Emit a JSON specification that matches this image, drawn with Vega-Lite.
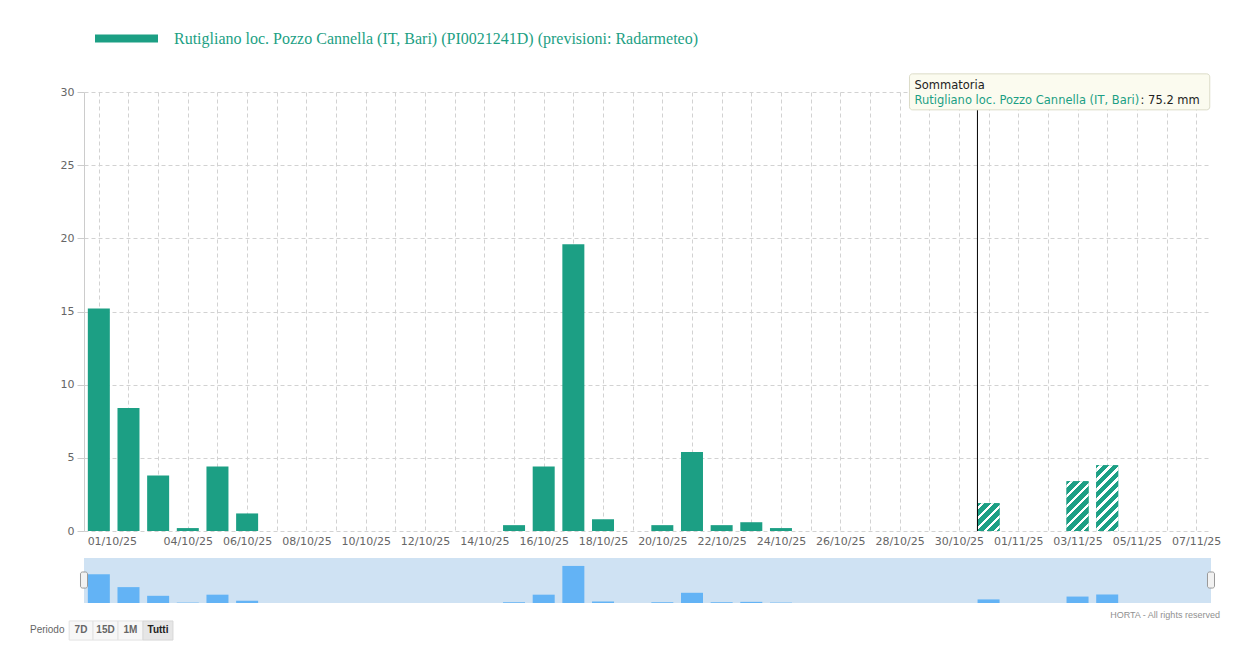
{
  "$schema": "https://vega.github.io/schema/vega-lite/v6.json",
  "padding": {"left": 30, "top": 7, "right": 0, "bottom": 0},
  "spacing": 12,
  "config": {
    "view": {"stroke": null},
    "font": "DejaVu Sans",
    "axis": {"labelFont": "DejaVu Sans", "labelFontSize": 11, "labelColor": "#666666", "title": null}
  },
  "data": {
    "values": [
      {"date": "2025-10-01", "mm": 15.2, "forecast": false},
      {"date": "2025-10-02", "mm": 8.4, "forecast": false},
      {"date": "2025-10-03", "mm": 3.8, "forecast": false},
      {"date": "2025-10-04", "mm": 0.2, "forecast": false},
      {"date": "2025-10-05", "mm": 4.4, "forecast": false},
      {"date": "2025-10-06", "mm": 1.2, "forecast": false},
      {"date": "2025-10-07", "mm": 0, "forecast": false},
      {"date": "2025-10-08", "mm": 0, "forecast": false},
      {"date": "2025-10-09", "mm": 0, "forecast": false},
      {"date": "2025-10-10", "mm": 0, "forecast": false},
      {"date": "2025-10-11", "mm": 0, "forecast": false},
      {"date": "2025-10-12", "mm": 0, "forecast": false},
      {"date": "2025-10-13", "mm": 0, "forecast": false},
      {"date": "2025-10-14", "mm": 0, "forecast": false},
      {"date": "2025-10-15", "mm": 0.4, "forecast": false},
      {"date": "2025-10-16", "mm": 4.4, "forecast": false},
      {"date": "2025-10-17", "mm": 19.6, "forecast": false},
      {"date": "2025-10-18", "mm": 0.8, "forecast": false},
      {"date": "2025-10-19", "mm": 0, "forecast": false},
      {"date": "2025-10-20", "mm": 0.4, "forecast": false},
      {"date": "2025-10-21", "mm": 5.4, "forecast": false},
      {"date": "2025-10-22", "mm": 0.4, "forecast": false},
      {"date": "2025-10-23", "mm": 0.6, "forecast": false},
      {"date": "2025-10-24", "mm": 0.2, "forecast": false},
      {"date": "2025-10-25", "mm": 0, "forecast": false},
      {"date": "2025-10-26", "mm": 0, "forecast": false},
      {"date": "2025-10-27", "mm": 0, "forecast": false},
      {"date": "2025-10-28", "mm": 0, "forecast": false},
      {"date": "2025-10-29", "mm": 0, "forecast": false},
      {"date": "2025-10-30", "mm": 0, "forecast": false},
      {"date": "2025-10-31", "mm": 1.9, "forecast": true},
      {"date": "2025-11-01", "mm": 0, "forecast": true},
      {"date": "2025-11-02", "mm": 0, "forecast": true},
      {"date": "2025-11-03", "mm": 3.4, "forecast": true},
      {"date": "2025-11-04", "mm": 4.5, "forecast": true}
    ],
    "format": {"parse": {"date": "utc:'%Y-%m-%d'"}}
  },
  "vconcat": [
    {
      "width": 1127,
      "height": 439,
      "encoding": {
        "x": {
          "field": "date",
          "type": "temporal",
          "scale": {"type": "utc", "padding": 0, "domain": [{"year": 2025, "month": "Sep", "date": 30, "hours": 12, "utc": true}, {"year": 2025, "month": "Nov", "date": 7, "hours": 12, "utc": true}]},
          "axis": {
            "tickCount": {"interval": "day", "step": 1},
            "format": "%d/%m/%y",
            "labelExpr": "indexof(['01/10/25','04/10/25','06/10/25','08/10/25','10/10/25','12/10/25','14/10/25','16/10/25','18/10/25','20/10/25','22/10/25','24/10/25','26/10/25','28/10/25','30/10/25','01/11/25','03/11/25','05/11/25','07/11/25'], datum.label) >= 0 ? datum.label : ''",
            "labelOffset": {"condition": {"test": "datum.label == '01/10/25'", "value": 13}, "value": 0},
            "labelOverlap": false,
            "labelPadding": 4,
            "ticks": false,
            "domain": false,
            "grid": true,
            "gridDash": [4, 3],
            "gridColor": "#d2d2d2"
          }
        },
        "y": {
          "field": "mm",
          "type": "quantitative",
          "scale": {"domain": [0, 30], "nice": false},
          "axis": {
            "values": [0, 5, 10, 15, 20, 25, 30],
            "grid": true,
            "gridDash": [4, 3],
            "gridColor": "#d2d2d2",
            "domain": true,
            "domainColor": "#cccccc",
            "tickColor": "#cccccc",
            "tickSize": 7,
            "labelPadding": 3
          }
        }
      },
      "layer": [
        {
          "mark": {"type": "bar", "width": 22},
          "encoding": {
            "color": {
              "datum": "Rutigliano loc. Pozzo Cannella (IT, Bari) (PI0021241D) (previsioni: Radarmeteo)",
              "type": "nominal",
              "scale": {"range": ["#1c9f84"]},
              "legend": {
                "orient": "none",
                "legendX": 11,
                "legendY": -85,
                "title": null,
                "padding": 0,
                "symbolType": "M-1,-0.127H1V0.127H-1Z",
                "symbolSize": 3969,
                "symbolStrokeWidth": 0,
                "labelFont": "Liberation Serif",
                "labelFontSize": 16,
                "labelColor": "#1c9f84",
                "labelOffset": 16,
                "labelLimit": 900
              }
            }
          }
        },
        {
          "transform": [{"filter": "utcmonth(datum.date) == 9 && utcdate(datum.date) == 31"}],
          "mark": {"type": "bar", "width": 22, "fill": {"gradient": "linear", "x1": 0, "y1": 0, "x2": 1.750, "y2": 2.212, "stops": [
            {"offset": 0, "color": "#1c9f84"}, {"offset": 0.0325, "color": "#1c9f84"}, {"offset": 0.0325, "color": "#ffffff"}, {"offset": 0.0675, "color": "#ffffff"}, {"offset": 0.0675, "color": "#1c9f84"},
            {"offset": 0.1325, "color": "#1c9f84"}, {"offset": 0.1325, "color": "#ffffff"}, {"offset": 0.1675, "color": "#ffffff"}, {"offset": 0.1675, "color": "#1c9f84"},
            {"offset": 0.2325, "color": "#1c9f84"}, {"offset": 0.2325, "color": "#ffffff"}, {"offset": 0.2675, "color": "#ffffff"}, {"offset": 0.2675, "color": "#1c9f84"},
            {"offset": 0.3325, "color": "#1c9f84"}, {"offset": 0.3325, "color": "#ffffff"}, {"offset": 0.3675, "color": "#ffffff"}, {"offset": 0.3675, "color": "#1c9f84"},
            {"offset": 0.4325, "color": "#1c9f84"}, {"offset": 0.4325, "color": "#ffffff"}, {"offset": 0.4675, "color": "#ffffff"}, {"offset": 0.4675, "color": "#1c9f84"},
            {"offset": 0.5325, "color": "#1c9f84"}, {"offset": 0.5325, "color": "#ffffff"}, {"offset": 0.5675, "color": "#ffffff"}, {"offset": 0.5675, "color": "#1c9f84"},
            {"offset": 0.6325, "color": "#1c9f84"}, {"offset": 0.6325, "color": "#ffffff"}, {"offset": 0.6675, "color": "#ffffff"}, {"offset": 0.6675, "color": "#1c9f84"},
            {"offset": 0.7325, "color": "#1c9f84"}, {"offset": 0.7325, "color": "#ffffff"}, {"offset": 0.7675, "color": "#ffffff"}, {"offset": 0.7675, "color": "#1c9f84"},
            {"offset": 0.8325, "color": "#1c9f84"}, {"offset": 0.8325, "color": "#ffffff"}, {"offset": 0.8675, "color": "#ffffff"}, {"offset": 0.8675, "color": "#1c9f84"},
            {"offset": 0.9325, "color": "#1c9f84"}, {"offset": 0.9325, "color": "#ffffff"}, {"offset": 0.9675, "color": "#ffffff"}, {"offset": 0.9675, "color": "#1c9f84"},
            {"offset": 1, "color": "#1c9f84"}]}}
        },
        {
          "transform": [{"filter": "utcmonth(datum.date) == 10 && utcdate(datum.date) == 3"}],
          "mark": {"type": "bar", "width": 22, "fill": {"gradient": "linear", "x1": 0, "y1": 0, "x2": 0.7435, "y2": 1.681, "stops": [
            {"offset": 0, "color": "#1c9f84"}, {"offset": 0.0325, "color": "#1c9f84"}, {"offset": 0.0325, "color": "#ffffff"}, {"offset": 0.0675, "color": "#ffffff"}, {"offset": 0.0675, "color": "#1c9f84"},
            {"offset": 0.1325, "color": "#1c9f84"}, {"offset": 0.1325, "color": "#ffffff"}, {"offset": 0.1675, "color": "#ffffff"}, {"offset": 0.1675, "color": "#1c9f84"},
            {"offset": 0.2325, "color": "#1c9f84"}, {"offset": 0.2325, "color": "#ffffff"}, {"offset": 0.2675, "color": "#ffffff"}, {"offset": 0.2675, "color": "#1c9f84"},
            {"offset": 0.3325, "color": "#1c9f84"}, {"offset": 0.3325, "color": "#ffffff"}, {"offset": 0.3675, "color": "#ffffff"}, {"offset": 0.3675, "color": "#1c9f84"},
            {"offset": 0.4325, "color": "#1c9f84"}, {"offset": 0.4325, "color": "#ffffff"}, {"offset": 0.4675, "color": "#ffffff"}, {"offset": 0.4675, "color": "#1c9f84"},
            {"offset": 0.5325, "color": "#1c9f84"}, {"offset": 0.5325, "color": "#ffffff"}, {"offset": 0.5675, "color": "#ffffff"}, {"offset": 0.5675, "color": "#1c9f84"},
            {"offset": 0.6325, "color": "#1c9f84"}, {"offset": 0.6325, "color": "#ffffff"}, {"offset": 0.6675, "color": "#ffffff"}, {"offset": 0.6675, "color": "#1c9f84"},
            {"offset": 0.7325, "color": "#1c9f84"}, {"offset": 0.7325, "color": "#ffffff"}, {"offset": 0.7675, "color": "#ffffff"}, {"offset": 0.7675, "color": "#1c9f84"},
            {"offset": 0.8325, "color": "#1c9f84"}, {"offset": 0.8325, "color": "#ffffff"}, {"offset": 0.8675, "color": "#ffffff"}, {"offset": 0.8675, "color": "#1c9f84"},
            {"offset": 0.9325, "color": "#1c9f84"}, {"offset": 0.9325, "color": "#ffffff"}, {"offset": 0.9675, "color": "#ffffff"}, {"offset": 0.9675, "color": "#1c9f84"},
            {"offset": 1, "color": "#1c9f84"}]}}
        },
        {
          "transform": [{"filter": "utcmonth(datum.date) == 10 && utcdate(datum.date) == 4"}],
          "mark": {"type": "bar", "width": 22, "fill": {"gradient": "linear", "x1": 0, "y1": 0, "x2": 0.4564, "y2": 1.366, "stops": [
            {"offset": 0, "color": "#1c9f84"}, {"offset": 0.0325, "color": "#1c9f84"}, {"offset": 0.0325, "color": "#ffffff"}, {"offset": 0.0675, "color": "#ffffff"}, {"offset": 0.0675, "color": "#1c9f84"},
            {"offset": 0.1325, "color": "#1c9f84"}, {"offset": 0.1325, "color": "#ffffff"}, {"offset": 0.1675, "color": "#ffffff"}, {"offset": 0.1675, "color": "#1c9f84"},
            {"offset": 0.2325, "color": "#1c9f84"}, {"offset": 0.2325, "color": "#ffffff"}, {"offset": 0.2675, "color": "#ffffff"}, {"offset": 0.2675, "color": "#1c9f84"},
            {"offset": 0.3325, "color": "#1c9f84"}, {"offset": 0.3325, "color": "#ffffff"}, {"offset": 0.3675, "color": "#ffffff"}, {"offset": 0.3675, "color": "#1c9f84"},
            {"offset": 0.4325, "color": "#1c9f84"}, {"offset": 0.4325, "color": "#ffffff"}, {"offset": 0.4675, "color": "#ffffff"}, {"offset": 0.4675, "color": "#1c9f84"},
            {"offset": 0.5325, "color": "#1c9f84"}, {"offset": 0.5325, "color": "#ffffff"}, {"offset": 0.5675, "color": "#ffffff"}, {"offset": 0.5675, "color": "#1c9f84"},
            {"offset": 0.6325, "color": "#1c9f84"}, {"offset": 0.6325, "color": "#ffffff"}, {"offset": 0.6675, "color": "#ffffff"}, {"offset": 0.6675, "color": "#1c9f84"},
            {"offset": 0.7325, "color": "#1c9f84"}, {"offset": 0.7325, "color": "#ffffff"}, {"offset": 0.7675, "color": "#ffffff"}, {"offset": 0.7675, "color": "#1c9f84"},
            {"offset": 0.8325, "color": "#1c9f84"}, {"offset": 0.8325, "color": "#ffffff"}, {"offset": 0.8675, "color": "#ffffff"}, {"offset": 0.8675, "color": "#1c9f84"},
            {"offset": 0.9325, "color": "#1c9f84"}, {"offset": 0.9325, "color": "#ffffff"}, {"offset": 0.9675, "color": "#ffffff"}, {"offset": 0.9675, "color": "#1c9f84"},
            {"offset": 1, "color": "#1c9f84"}]}}
        },
        {
          "transform": [{"filter": "utcmonth(datum.date) == 9 && utcdate(datum.date) == 1"}],
          "mark": {"type": "rule", "color": "#000000", "strokeWidth": 1, "clip": false},
          "encoding": {
            "x": {"datum": {"year": 2025, "month": "Oct", "date": 30, "hours": 15, "utc": true}, "type": "temporal"},
            "y": {"datum": 0},
            "y2": {"datum": 28.78}
          }
        },
        {
          "transform": [{"filter": "utcmonth(datum.date) == 9 && utcdate(datum.date) == 1"}],
          "mark": {"type": "rect", "fill": "#fbfbef", "stroke": "#dcdcc8", "strokeWidth": 1, "cornerRadius": 3, "clip": false},
          "encoding": {
            "x": {"datum": {"year": 2025, "month": "Oct", "date": 28, "hours": 8, "utc": true}, "type": "temporal"},
            "x2": {"datum": {"year": 2025, "month": "Nov", "date": 7, "hours": 11, "utc": true}},
            "y": {"datum": 28.78},
            "y2": {"datum": 31.24}
          }
        },
        {
          "transform": [{"filter": "utcmonth(datum.date) == 9 && utcdate(datum.date) == 1"}],
          "mark": {"type": "text", "align": "left", "baseline": "middle", "font": "DejaVu Sans", "fontSize": 11.5, "color": "#222222", "text": "Sommatoria", "clip": false},
          "encoding": {
            "x": {"datum": {"year": 2025, "month": "Oct", "date": 28, "hours": 12, "utc": true}, "type": "temporal"},
            "y": {"datum": 30.42}
          }
        },
        {
          "transform": [{"filter": "utcmonth(datum.date) == 9 && utcdate(datum.date) == 1"}],
          "mark": {"type": "text", "align": "left", "baseline": "middle", "font": "DejaVu Sans", "fontSize": 11.5, "color": "#1c9f84", "text": "Rutigliano loc. Pozzo Cannella (IT, Bari)", "clip": false},
          "encoding": {
            "x": {"datum": {"year": 2025, "month": "Oct", "date": 28, "hours": 12, "utc": true}, "type": "temporal"},
            "y": {"datum": 29.39}
          }
        },
        {
          "transform": [{"filter": "utcmonth(datum.date) == 9 && utcdate(datum.date) == 1"}],
          "mark": {"type": "text", "align": "left", "baseline": "middle", "font": "DejaVu Sans", "fontSize": 11.5, "color": "#222222", "text": ": 75.2 mm", "clip": false},
          "encoding": {
            "x": {"datum": {"year": 2025, "month": "Nov", "date": 5, "hours": 3, "utc": true}, "type": "temporal"},
            "y": {"datum": 29.39}
          }
        }
      ]
    },
    {
      "width": 1127,
      "height": 45,
      "view": {"fill": "#cfe2f3", "stroke": null},
      "encoding": {
        "x": {
          "field": "date",
          "type": "temporal",
          "scale": {"type": "utc", "padding": 0, "domain": [{"year": 2025, "month": "Sep", "date": 30, "hours": 12, "utc": true}, {"year": 2025, "month": "Nov", "date": 7, "hours": 12, "utc": true}]},
          "axis": null
        },
        "y": {
          "field": "mm",
          "type": "quantitative",
          "scale": {"domain": [0, 23.8], "nice": false},
          "axis": null
        }
      },
      "layer": [
        {
          "mark": {"type": "bar", "width": 22, "color": "#63b3f5"}
        },
        {
          "transform": [{"filter": "utcmonth(datum.date) == 9 && utcdate(datum.date) == 1"}],
          "mark": {"type": "rect", "fill": "#f2f2f2", "stroke": "#999999", "cornerRadius": 2, "clip": false},
          "encoding": {
            "x": {"datum": {"year": 2025, "month": "Sep", "date": 30, "hours": 9, "minutes": 10, "utc": true}, "type": "temporal"},
            "x2": {"datum": {"year": 2025, "month": "Sep", "date": 30, "hours": 14, "minutes": 50, "utc": true}},
            "y": {"datum": 7.9},
            "y2": {"datum": 16.4}
          }
        },
        {
          "transform": [{"filter": "utcmonth(datum.date) == 9 && utcdate(datum.date) == 1"}],
          "mark": {"type": "rect", "fill": "#f2f2f2", "stroke": "#999999", "cornerRadius": 2, "clip": false},
          "encoding": {
            "x": {"datum": {"year": 2025, "month": "Nov", "date": 7, "hours": 9, "minutes": 10, "utc": true}, "type": "temporal"},
            "x2": {"datum": {"year": 2025, "month": "Nov", "date": 7, "hours": 14, "minutes": 50, "utc": true}},
            "y": {"datum": 7.9},
            "y2": {"datum": 16.4}
          }
        },
        {
          "transform": [{"filter": "utcmonth(datum.date) == 9 && utcdate(datum.date) == 1"}],
          "mark": {"type": "text", "align": "right", "baseline": "middle", "font": "Liberation Sans", "fontSize": 9, "color": "#909090", "text": "HORTA - All rights reserved", "clip": false},
          "encoding": {
            "x": {"datum": {"year": 2025, "month": "Nov", "date": 7, "hours": 19, "minutes": 12, "utc": true}, "type": "temporal"},
            "y": {"datum": -6.35}
          }
        },
        {
          "transform": [{"filter": "utcmonth(datum.date) == 9 && utcdate(datum.date) == 1"}],
          "mark": {"type": "text", "align": "left", "baseline": "middle", "font": "Liberation Sans", "fontSize": 10, "color": "#666666", "text": "Periodo", "clip": false},
          "encoding": {
            "x": {"datum": {"year": 2025, "month": "Sep", "date": 28, "hours": 16, "minutes": 19, "utc": true}, "type": "temporal"},
            "y": {"datum": -14.4}
          }
        },
        {
          "transform": [{"filter": "utcmonth(datum.date) == 9 && utcdate(datum.date) == 1"}],
          "mark": {"type": "rect", "fill": "#f7f7f7", "stroke": "#e2e2e2", "clip": false},
          "encoding": {
            "x": {"datum": {"year": 2025, "month": "Sep", "date": 30, "hours": 0, "utc": true}, "type": "temporal"},
            "x2": {"datum": {"year": 2025, "month": "Sep", "date": 30, "hours": 19, "minutes": 17, "utc": true}},
            "y": {"datum": -9.5},
            "y2": {"datum": -19.6}
          }
        },
        {
          "transform": [{"filter": "utcmonth(datum.date) == 9 && utcdate(datum.date) == 1"}],
          "mark": {"type": "rect", "fill": "#f7f7f7", "stroke": "#e2e2e2", "clip": false},
          "encoding": {
            "x": {"datum": {"year": 2025, "month": "Sep", "date": 30, "hours": 19, "minutes": 17, "utc": true}, "type": "temporal"},
            "x2": {"datum": {"year": 2025, "month": "Oct", "date": 1, "hours": 15, "minutes": 31, "utc": true}},
            "y": {"datum": -9.5},
            "y2": {"datum": -19.6}
          }
        },
        {
          "transform": [{"filter": "utcmonth(datum.date) == 9 && utcdate(datum.date) == 1"}],
          "mark": {"type": "rect", "fill": "#f7f7f7", "stroke": "#e2e2e2", "clip": false},
          "encoding": {
            "x": {"datum": {"year": 2025, "month": "Oct", "date": 1, "hours": 15, "minutes": 31, "utc": true}, "type": "temporal"},
            "x2": {"datum": {"year": 2025, "month": "Oct", "date": 2, "hours": 11, "minutes": 44, "utc": true}},
            "y": {"datum": -9.5},
            "y2": {"datum": -19.6}
          }
        },
        {
          "transform": [{"filter": "utcmonth(datum.date) == 9 && utcdate(datum.date) == 1"}],
          "mark": {"type": "rect", "fill": "#e6e6e6", "stroke": "#d8d8d8", "clip": false},
          "encoding": {
            "x": {"datum": {"year": 2025, "month": "Oct", "date": 2, "hours": 11, "minutes": 44, "utc": true}, "type": "temporal"},
            "x2": {"datum": {"year": 2025, "month": "Oct", "date": 3, "hours": 12, "utc": true}},
            "y": {"datum": -9.5},
            "y2": {"datum": -19.6}
          }
        },
        {
          "transform": [{"filter": "utcmonth(datum.date) == 9 && utcdate(datum.date) == 1"}],
          "mark": {"type": "text", "align": "center", "baseline": "middle", "font": "Liberation Sans", "fontSize": 10, "fontWeight": "bold", "color": "#666666", "text": "7D", "clip": false},
          "encoding": {
            "x": {"datum": {"year": 2025, "month": "Sep", "date": 30, "hours": 9, "minutes": 34, "utc": true}, "type": "temporal"},
            "y": {"datum": -14.5}
          }
        },
        {
          "transform": [{"filter": "utcmonth(datum.date) == 9 && utcdate(datum.date) == 1"}],
          "mark": {"type": "text", "align": "center", "baseline": "middle", "font": "Liberation Sans", "fontSize": 10, "fontWeight": "bold", "color": "#666666", "text": "15D", "clip": false},
          "encoding": {
            "x": {"datum": {"year": 2025, "month": "Oct", "date": 1, "hours": 5, "minutes": 24, "utc": true}, "type": "temporal"},
            "y": {"datum": -14.5}
          }
        },
        {
          "transform": [{"filter": "utcmonth(datum.date) == 9 && utcdate(datum.date) == 1"}],
          "mark": {"type": "text", "align": "center", "baseline": "middle", "font": "Liberation Sans", "fontSize": 10, "fontWeight": "bold", "color": "#666666", "text": "1M", "clip": false},
          "encoding": {
            "x": {"datum": {"year": 2025, "month": "Oct", "date": 2, "hours": 1, "minutes": 38, "utc": true}, "type": "temporal"},
            "y": {"datum": -14.5}
          }
        },
        {
          "transform": [{"filter": "utcmonth(datum.date) == 9 && utcdate(datum.date) == 1"}],
          "mark": {"type": "text", "align": "center", "baseline": "middle", "font": "Liberation Sans", "fontSize": 10, "fontWeight": "bold", "color": "#222222", "text": "Tutti", "clip": false},
          "encoding": {
            "x": {"datum": {"year": 2025, "month": "Oct", "date": 2, "hours": 23, "minutes": 53, "utc": true}, "type": "temporal"},
            "y": {"datum": -14.5}
          }
        }
      ]
    }
  ]
}
